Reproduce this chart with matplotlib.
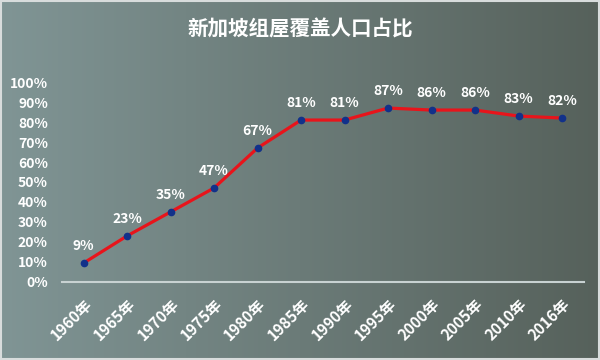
import numpy as np
import matplotlib.pyplot as plt

plt.rcParams['font.family'] = ['Noto Sans CJK SC', 'DejaVu Sans']

years = ["1960年", "1965年", "1970年", "1975年", "1980年", "1985年",
         "1990年", "1995年", "2000年", "2005年", "2010年", "2016年"]
share = [9.4, 23, 35, 47, 67, 81, 81, 87, 86, 86, 83, 82]
yticks = list(range(0, 101, 10))

fig = plt.figure(figsize=(6, 3.6), dpi=100)

# gradient background
bg = fig.add_axes([0, 0, 1, 1], zorder=0)
left = np.array([128, 149, 149]) / 255
right = np.array([86, 97, 91]) / 255
t = np.linspace(0, 1, 300)
grad = left[None, :] * (1 - t[:, None]) + right[None, :] * t[:, None]
bg.imshow(grad[None, :, :], aspect='auto', extent=[0, 1, 0, 1])
bg.set_xlim(0, 1)
bg.set_ylim(0, 1)
bg.axis('off')
fig.patches.append(plt.Rectangle((0.002, 0.003), 0.996, 0.994, transform=fig.transFigure,
                                 fill=False, edgecolor='#d8dcdc', lw=1.5))

ax = fig.add_axes([0.103, 0.217, 0.87, 0.555], zorder=1)
ax.patch.set_alpha(0)
x = np.arange(len(years))
ax.plot(x, share, color='#e8141b', lw=2.3, zorder=2)
ax.plot(x, share, 'o', color='#12318a', ms=4.5, zorder=3)
for xi, v in zip(x, share):
    ax.text(xi, v + 5, f"{v:.0f}%", ha='center', va='bottom', color='white',
            fontsize=10, fontweight='bold')

ax.set_xlim(-0.5, len(years) - 0.5)
ax.set_ylim(0, 100)
ax.set_yticks(yticks)
ax.set_yticklabels([f"{v}%" for v in yticks])
ax.set_xticks(x)
ax.set_xticklabels(years, rotation=45, ha='right', rotation_mode='anchor')
for s in ['top', 'right', 'left']:
    ax.spines[s].set_visible(False)
ax.spines['bottom'].set_color('#c8d2d2')
ax.spines['bottom'].set_linewidth(1.5)
ax.tick_params(length=0, colors='white')
ax.tick_params(axis='y', pad=10, labelsize=10)
ax.tick_params(axis='x', pad=10, labelsize=11)
for lab in ax.get_xticklabels() + ax.get_yticklabels():
    lab.set_fontweight('bold')

fig.text(0.5, 0.92, "新加坡组屋覆盖人口占比", ha='center', va='center',
         color='white', fontsize=14.8, fontweight='bold')

fig.savefig("out.png", dpi=100)
